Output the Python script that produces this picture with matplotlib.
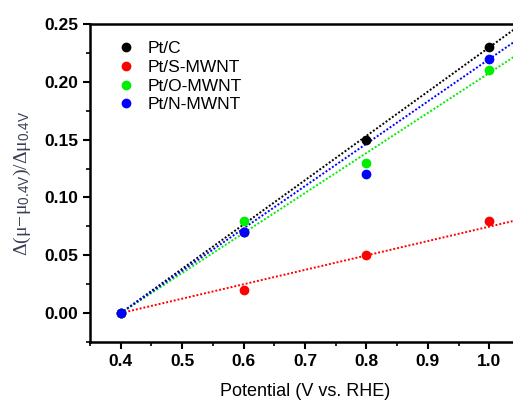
import numpy as np
import matplotlib.pyplot as plt
from matplotlib.ticker import MultipleLocator

# measured points
potential = [0.4, 0.6, 0.8, 1.0]
pt_c = [0.0, 0.07, 0.15, 0.23]
pt_s = [0.0, 0.02, 0.05, 0.08]
pt_o = [0.0, 0.08, 0.13, 0.21]
pt_n = [0.0, 0.07, 0.12, 0.22]

# dotted fit lines, start / end
fit_x = [0.4, 1.05]
fit_c = [0.0, 0.249]
fit_s = [0.0, 0.081]
fit_o = [0.0, 0.225]
fit_n = [0.0, 0.238]

labels = ["Pt/C", "Pt/S-MWNT", "Pt/O-MWNT", "Pt/N-MWNT"]
colors = ["black", "#ff0000", "#00ee00", "#0000ff"]

plt.rcParams["font.family"] = ["Liberation Sans", "DejaVu Sans"]
plt.rcParams["mathtext.fontset"] = "custom"
plt.rcParams["mathtext.rm"] = "Liberation Serif"
plt.rcParams["mathtext.it"] = "Liberation Serif"
plt.rcParams["mathtext.sf"] = "Liberation Sans"

fig = plt.figure(figsize=(5.13, 4.0), dpi=100)
ax = fig.add_axes([90 / 513, 58 / 400, 430 / 513, 318 / 400])

for y, f, lab, c in zip([pt_c, pt_s, pt_o, pt_n], [fit_c, fit_s, fit_o, fit_n], labels, colors):
    ax.plot(fit_x, f, ls=(0, (1, 1)), lw=1.4, color=c)
    ax.plot(potential, y, "o", ms=6, color=c, label=lab, zorder=3)

ax.set_xlim(0.35, 1.05)
ax.set_ylim(-0.025, 0.25)
ax.xaxis.set_major_locator(MultipleLocator(0.1))
ax.xaxis.set_minor_locator(MultipleLocator(0.05))
ax.yaxis.set_major_locator(MultipleLocator(0.05))
ax.yaxis.set_minor_locator(MultipleLocator(0.025))
ax.xaxis.set_major_formatter(plt.FormatStrFormatter("%.1f"))
ax.yaxis.set_major_formatter(plt.FormatStrFormatter("%.2f"))

for s in ax.spines.values():
    s.set_linewidth(1.8)
ax.tick_params(which="major", direction="out", length=5, width=1.5, labelsize=12.5)
ax.tick_params(which="minor", direction="out", length=3, width=1.2)
for t in ax.get_xticklabels() + ax.get_yticklabels():
    t.set_fontweight("bold")

ax.set_xlabel("Potential (V vs. RHE)", fontsize=13, labelpad=10)
ax.set_ylabel(r"$\Delta(\mu\!-\!\mu_{\mathsf{0.4V}})/\Delta\mu_{\mathsf{0.4V}}$",
              fontsize=14, color="#3a3f55", labelpad=8)

ax.legend(loc="upper left", bbox_to_anchor=(0.02, 0.995), frameon=False, fontsize=12.5,
          handletextpad=0.5, labelspacing=0.2, handlelength=1.4)

fig.savefig("out.png", dpi=100)
